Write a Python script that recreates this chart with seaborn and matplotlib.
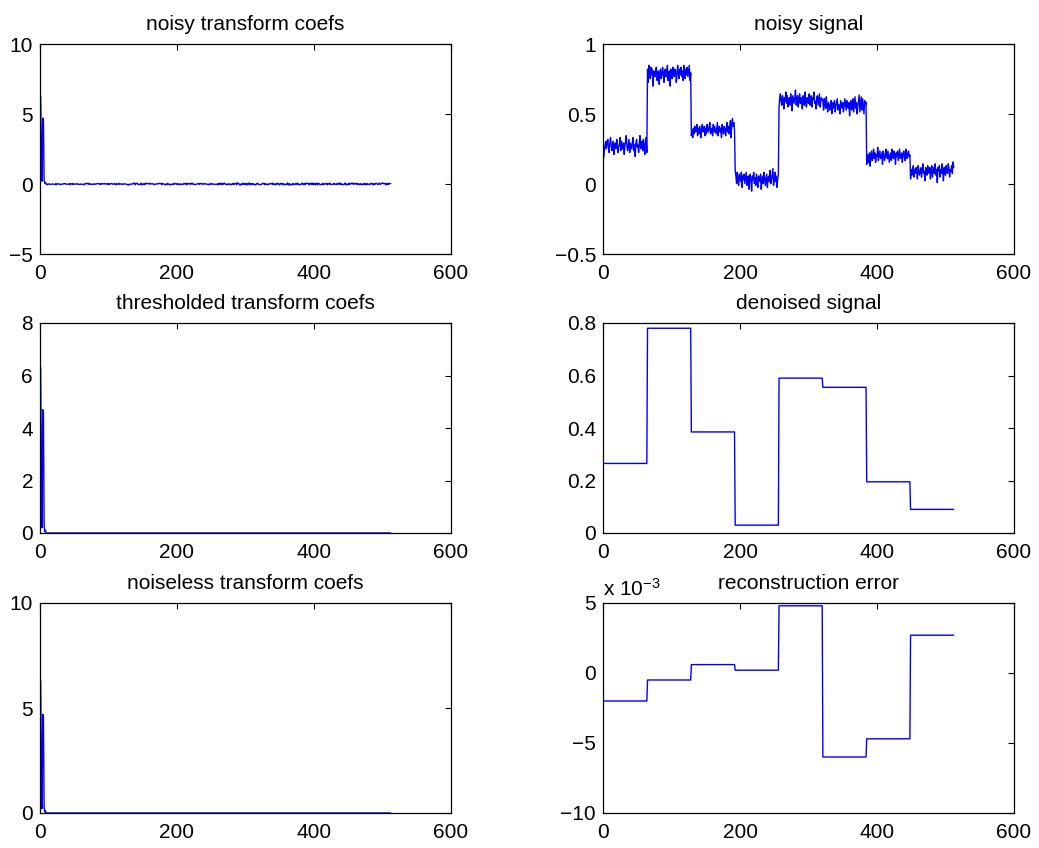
import numpy as np
import pandas as pd
import matplotlib
matplotlib.use("Agg")
import matplotlib.pyplot as plt
from matplotlib.ticker import FuncFormatter, FixedLocator
import seaborn as sns

# ---------------- data ----------------
n_points = 512
segment_length = 64
# denoised (piecewise constant) signal levels, one per 64-sample segment
denoised_levels = [0.265, 0.78, 0.385, 0.03, 0.59, 0.555, 0.195, 0.09]
# reconstruction error levels (units of 1e-3), one per segment
error_levels = [-2.0, -0.5, 0.6, 0.2, 4.8, -6.0, -4.7, 2.7]
# leading (large) transform coefficients, indices 1..8
coef_head = [6.3, 2.2, 0.2, 4.7, 4.6, 0.3, 0.05, 0.1]
# unit of the noise list below (signal units per step)
noise_unit = 0.0135
# noise on the signal, estimated from the noisy-signal panel
signal_noise = [
    -6, -2, 1, 3, -1, 2, 4, 0, -3, 2, 5, 1, -2, 0, 3, -4,
    1, 2, -1, 4, 2, -3, 0, 1, 5, -2, 3, 0, -1, 2, -4, 1,
    3, 6, 0, -2, 1, 4, -3, 2, 0, -1, 3, 5, -2, 1, -5, 2,
    4, 0, 1, -3, 2, 6, -1, 0, 3, -2, 4, 1, -4, 2, 5, -3,
    3, -4, 5, 1, -2, 4, 0, 3, -6, 2, 1, -1, 3, 4, -3, 0,
    2, -5, 1, 3, -2, 0, 4, 1, -4, 2, 3, -1, 0, 5, -3, 1,
    2, -6, 3, 0, -2, 4, 1, -1, 3, 2, -4, 0, 5, 1, -2, 3,
    0, 4, -1, 2, -3, 5, 1, -2, 3, 0, 4, -1, 2, 5, -3, 1,
    -3, 0, -4, 1, -2, 2, -1, 0, 3, -3, 1, -2, 2, 0, -4, 1,
    3, -1, 0, 2, -3, 1, -2, 3, 0, -1, 2, 4, -2, 0, 1, -3,
    3, -1, 2, 0, -2, 1, 4, -3, 0, 2, -1, 1, -4, 3, 0, -2,
    2, 1, -3, 0, 4, -1, 2, -2, 1, 5, -4, 3, 6, 2, 4, 0,
    5, 2, -2, 4, 0, -3, 3, 1, -1, 4, -4, 2, 0, 3, -2, 1,
    4, -3, 0, 2, -5, 1, 3, -1, -6, 2, 0, 4, -2, 1, -3, 3,
    0, -4, 2, 1, -1, 3, -5, 0, 2, -2, 4, 1, -3, 0, 3, -4,
    1, 2, -1, 5, -2, 0, 3, 6, -3, 1, 4, -1, 2, -4, 0, 3,
    -3, 2, 4, 0, -2, 3, 1, -4, 2, 0, 5, -1, 3, -3, 1, 2,
    -2, 4, 0, -5, 3, 1, -1, 2, 6, -2, 0, 3, -3, 1, 4, -1,
    2, 0, -4, 3, 1, -2, 5, 0, -3, 2, 1, -1, 4, -2, 0, 3,
    -3, 2, 1, 5, -1, 0, -4, 2, 3, -2, 1, 4, -3, 0, 2, 1,
    3, -2, 4, 1, -1, 5, 0, -3, 2, 1, -2, 0, 3, -4, 1, 2,
    -1, 3, -3, 0, 2, 4, -2, 1, 0, -4, 3, 1, -1, 2, -3, 0,
    4, 1, -2, 3, 0, -1, 2, -5, 1, 3, -2, 0, 4, -3, 1, 5,
    -1, 2, -4, 0, 3, 6, -3, 1, 5, -2, 4, 0, -4, 3, 1, 2,
    -4, 1, -3, 0, 2, -5, 1, 3, -2, 0, 4, -1, 2, -3, 1, 0,
    5, -2, 1, 3, -1, 0, 2, -4, 3, 1, -2, 0, 4, 2, -1, 3,
    0, -3, 1, 2, -2, 4, 0, -1, 3, 1, -4, 2, 0, 3, -2, 1,
    4, -1, 0, 2, -3, 1, 3, 0, -2, 4, 1, -1, 2, 3, 0, 1,
    -4, 1, -2, 0, 3, -3, 1, -1, 2, 0, -4, 3, 1, -2, 0, 2,
    -3, 1, 4, -1, 0, -5, 2, 1, -2, 3, 0, -1, 2, -4, 1, 3,
    -3, 0, 2, -1, 4, -2, 1, -6, 2, 0, 3, -3, 1, -1, 4, 0,
    -5, 2, 1, -2, 3, 0, -1, 4, 2, -3, 1, 0, 3, -1, 5, 2,
]

titles = ["noisy transform coefs", "noisy signal",
          "thresholded transform coefs", "denoised signal",
          "noiseless transform coefs", "reconstruction error"]
ylims = [(-5, 10), (-0.5, 1), (0, 8), (0, 0.8), (0, 10), (-10, 5)]
yticks = [[-5, 0, 5, 10], [-0.5, 0, 0.5, 1], [0, 2, 4, 6, 8],
          [0, 0.2, 0.4, 0.6, 0.8], [0, 5, 10], [-10, -5, 0, 5]]
xticks = [0, 200, 400, 600]


# ---------------- derived series ----------------
def haar(x):
    a = np.asarray(x, dtype=float)
    out = []
    while len(a) > 1:
        avg = (a[0::2] + a[1::2]) / np.sqrt(2)
        det = (a[0::2] - a[1::2]) / np.sqrt(2)
        out = list(det) + out
        a = avg
    return np.array(list(a) + out)


idx = np.arange(1, n_points + 1)
noise = np.array(signal_noise, dtype=float) * noise_unit
denoised = np.repeat(denoised_levels, segment_length)
noisy = denoised + noise
error = np.repeat(error_levels, segment_length)

noise_coefs = haar(noise)
clean_coefs = np.zeros(n_points)
clean_coefs[:len(coef_head)] = coef_head
noisy_coefs = clean_coefs + noise_coefs
noisy_coefs[:len(coef_head)] = coef_head

series = [noisy_coefs, noisy, clean_coefs, denoised, clean_coefs, error]

# ---------------- style ----------------
sns.set_theme(style="white")
plt.rcParams.update({
    "font.family": ["Liberation Sans", "DejaVu Sans"],
    "mathtext.default": "regular",
    "text.color": "black",
    "axes.titlecolor": "black",
    "axes.labelcolor": "black",
    "axes.edgecolor": "black",
    "axes.linewidth": 0.9,
    "xtick.direction": "in",
    "ytick.direction": "in",
    "xtick.top": True,
    "ytick.right": True,
    "xtick.major.size": 4,
    "ytick.major.size": 4,
    "xtick.major.width": 0.8,
    "ytick.major.width": 0.8,
    "xtick.color": "black",
    "ytick.color": "black",
    "xtick.labelcolor": "black",
    "ytick.labelcolor": "black",
    "xtick.labelsize": 15,
    "ytick.labelsize": 15,
    "axes.titlesize": 15,
})

fig = plt.figure(figsize=(10.39, 8.48), dpi=100)
col_x = [40 / 1039, 603 / 1039]
w = 411 / 1039
row_b = [1 - 254 / 848, 1 - 533 / 848, 1 - 813 / 848]
h = 210 / 848

fmt = FuncFormatter(lambda v, p: ("%g" % v).replace("-", "\u2212"))

for k in range(6):
    r, c = divmod(k, 2)
    ax = fig.add_axes([col_x[c], row_b[r], w, h])
    y = series[k]
    df = pd.DataFrame({"x": idx, "y": y})
    sns.lineplot(data=df, x="x", y="y", ax=ax, color=(0, 0, 1),
                 linewidth=1.0, estimator=None, sort=False, clip_on=False)
    ax.set_xlim(0, 600)
    ax.set_ylim(*ylims[k])
    ax.xaxis.set_major_locator(FixedLocator(xticks))
    ax.yaxis.set_major_locator(FixedLocator(yticks[k]))
    ax.xaxis.set_major_formatter(fmt)
    ax.yaxis.set_major_formatter(fmt)
    ax.tick_params(axis="x", pad=7, labelcolor="black")
    ax.tick_params(axis="y", pad=5, labelcolor="black")
    ax.set_xlabel("")
    ax.set_ylabel("")
    ax.set_title(titles[k], pad=10, color="black")
    for s in ax.spines.values():
        s.set_visible(True)
        s.set_color("black")
    if k == 5:
        ax.text(0.0, 1.015, "x 10$^{\u22123}$", transform=ax.transAxes,
                ha="left", va="bottom", fontsize=15, color="black")

fig.savefig("out.png", dpi=100)
